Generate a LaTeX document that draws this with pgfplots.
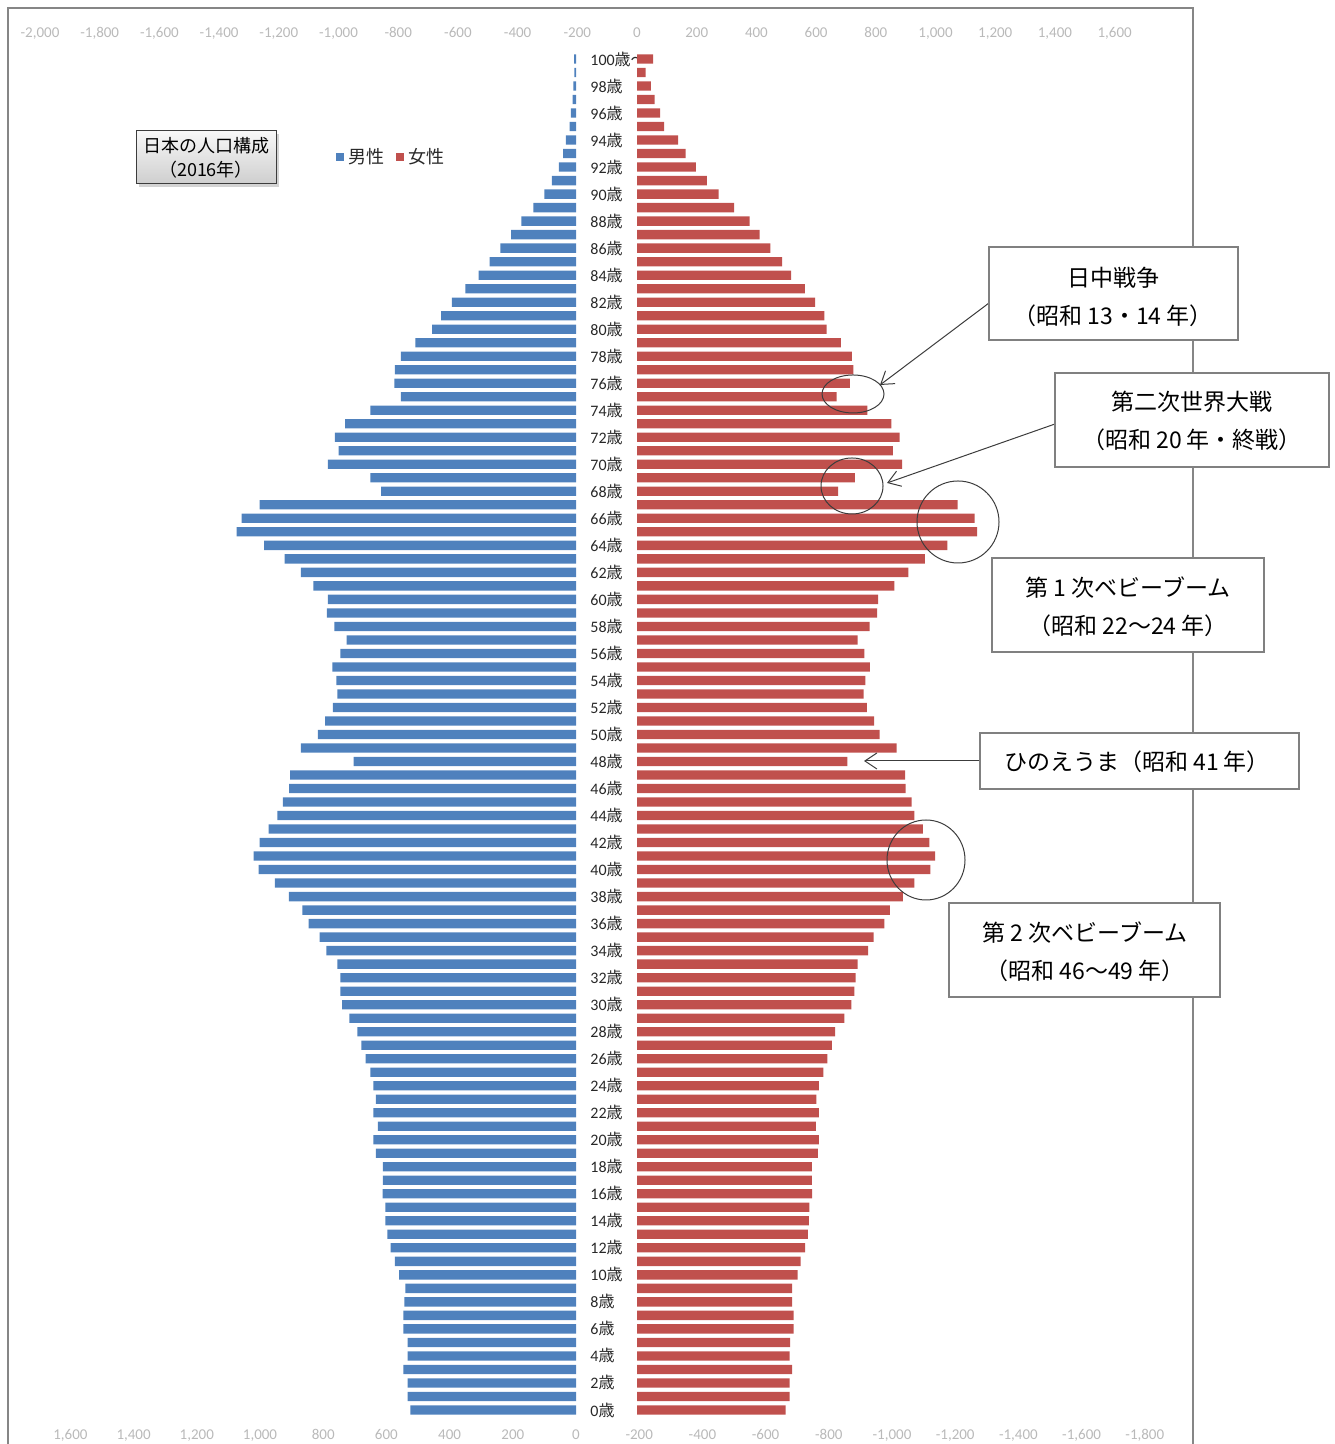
\documentclass[border=0pt]{standalone}
\usepackage{pgfplots}
\pgfplotsset{compat=1.18}
\usepackage{fontspec}
\setmainfont{Noto Sans CJK JP}
\newfontfamily\numfont{Carlito}
\newfontfamily\cjk{Noto Sans CJK JP}
\usetikzlibrary{arrows.meta,shadows}
\definecolor{maleblue}{RGB}{79,129,189}
\definecolor{femalered}{RGB}{192,80,77}
\definecolor{tickgray}{RGB}{185,185,185}
\definecolor{framegray}{RGB}{134,134,134}
\definecolor{boxgray}{RGB}{128,128,128}
\definecolor{inkgray}{RGB}{60,60,60}
\definecolor{labelink}{RGB}{40,40,40}
\newcommand\sai{{\cjk 歳}}
\pgfplotsset{
  pyr/.style={
    at={(4pt,0pt)}, anchor=south west,
    scale only axis, width=592.5pt, height=717pt,
    ymin=-2.52, ymax=103.63,
    axis line style={draw=none},
    major tick length=0pt,
    xbar, bar width=4.65pt,
    /pgf/number format/1000 sep={,},
    /pgf/number format/assume math mode=true,
  }
}
\begin{document}
\begin{tikzpicture}
\path[use as bounding box] (0pt,0pt) rectangle (667pt,722pt);
\begin{scope}[x=0.5pt,y=-0.5pt,yshift=722pt]
\draw[framegray, line width=0.75pt] (8,1470) -- (8,8) -- (1193,8) -- (1193,1470);
\end{scope}

% female axis (top ticks, age labels)
\begin{axis}[pyr,
  xmin=-2107.2, xmax=1862.6,
  xtick={-2000,-1800,...,1600},
  xticklabel pos=upper,
  x tick label style={anchor=base, yshift=-14pt, font=\numfont\fontsize{7.5}{9}\selectfont, text=tickgray},
  ytick={0,2,...,98},
  yticklabel={\pgfmathprintnumber{\tick}\sai},
  extra y ticks={100},
  extra y tick labels={100\sai{\cjk ～}},
  y tick label style={anchor=west, inner sep=0pt, xshift=291pt, font=\numfont\fontsize{8}{10}\selectfont, text=labelink},
]
\addplot[fill=femalered, draw=none, bar shift=0pt] coordinates {
(498,0)(511,1)(511,2)(520,3)(511,4)(513,5)(525,6)(525,7)(520,8)(520,9)
(538,10)(548,11)(563,12)(572,13)(576,14)(577,15)(587,16)(586,17)(586,18)(606,19)
(609,20)(599,21)(609,22)(601,23)(609,24)(624,25)(638,26)(653,27)(664,28)(695,29)
(718,30)(728,31)(732,32)(739,33)(774,34)(793,35)(829,36)(847,37)(891,38)(929,39)
(983,40)(999,41)(979,42)(958,43)(929,44)(920,45)(900,46)(898,47)(705,48)(870,49)
(813,50)(794,51)(770,52)(759,53)(765,54)(780,55)(762,56)(739,57)(779,58)(804,59)
(808,60)(862,61)(909,62)(964,63)(1040,64)(1139,65)(1131,66)(1074,67)(674,68)(730,69)
(888,70)(857,71)(880,72)(852,73)(772,74)(669,75)(713,76)(725,77)(720,78)(683,79)
(635,80)(628,81)(597,82)(562,83)(516,84)(486,85)(447,86)(411,87)(377,88)(325,89)
(273,90)(234,91)(197,92)(163,93)(138,94)(91,95)(77,96)(59,97)(46,98)(29,99)(54,100)
};
\end{axis}

% male axis (bottom ticks, reversed)
\begin{axis}[pyr,
  x dir=reverse,
  xmin=-1952.5, xmax=1797.5,
  xtick={-1800,-1600,...,1600},
  xticklabel pos=lower,
  x tick label style={anchor=base, yshift=2pt, font=\numfont\fontsize{7.5}{9}\selectfont, text=tickgray},
  ytick=\empty,
  legend columns=2,
  legend style={at={(0.2717,0.8975)}, anchor=west, draw=none, fill=none,
    font=\fontsize{9}{11}\selectfont, text=labelink,
    /tikz/every even column/.append style={column sep=4pt}},
  legend image code/.code={\fill[#1] (0pt,-2pt) rectangle (4pt,2pt);},
]
\addplot[fill=maleblue, draw=none, bar shift=0pt] coordinates {
(524,0)(533,1)(533,2)(546,3)(533,4)(533,5)(546,6)(546,7)(543,8)(540,9)
(560,10)(573,11)(587,12)(597,13)(603,14)(603,15)(612,16)(611,17)(611,18)(633,19)
(641,20)(627,21)(641,22)(633,23)(641,24)(651,25)(666,26)(679,27)(692,28)(717,29)
(740,30)(746,31)(746,32)(755,33)(790,34)(811,35)(846,36)(866,37)(909,38)(953,39)
(1004,40)(1020,41)(1001,42)(973,43)(945,44)(928,45)(908,46)(905,47)(704,48)(871,49)
(817,50)(794,51)(769,52)(755,53)(758,54)(771,55)(746,56)(726,57)(765,58)(788,59)
(785,60)(831,61)(871,62)(922,63)(987,64)(1074,65)(1058,66)(1001,67)(617,68)(651,69)
(785,70)(751,71)(763,72)(731,73)(651,74)(554,75)(575,76)(573,77)(554,78)(508,79)
(455,80)(427,81)(393,82)(350,83)(308,84)(273,85)(239,86)(205,87)(173,88)(135,89)
(100,90)(76,91)(54,92)(41,93)(32,94)(20,95)(16,96)(11,97)(8,98)(5,99)(6,100)
};
\addlegendentry{男性}
\addlegendimage{fill=femalered, draw=none}
\addlegendentry{女性}
\end{axis}

\begin{scope}[x=0.5pt,y=-0.5pt,yshift=722pt]
% title box
\node[draw=inkgray, line width=0.5pt, top color=gray!6, bottom color=gray!38,
  drop shadow={shadow xshift=1.5pt, shadow yshift=-1.5pt, opacity=0.35},
  minimum width=70pt, minimum height=26.5pt, align=center, inner sep=0pt,
  font=\fontsize{9}{12}\selectfont, text=black] at (206,157.5) {日本の人口構成\\（2016年）};

% ellipses
\begin{scope}[inkgray, line width=0.5pt]
\draw (853,394) ellipse [x radius=15.5pt, y radius=9.5pt];
\draw (852,486) ellipse [x radius=15.5pt, y radius=14pt];
\draw (958,522) ellipse [x radius=20.5pt, y radius=20.5pt];
\draw (926,860) ellipse [x radius=19.5pt, y radius=20pt];
\end{scope}

% arrows
\begin{scope}[inkgray, line width=0.5pt, -{Straight Barb[length=6pt,width=8pt]}]
\draw (989,303) -- (880,385);
\draw (1055,424) -- (887,483);
\draw (980,761) -- (864,761);
\end{scope}

% callout boxes
\begin{scope}[every node/.style={font=\fontsize{11.5}{14}\selectfont, text=black}]
\draw[boxgray, fill=white, line width=1pt] (989,247) rectangle (1238,340);
\node at (1113,278) {日中戦争};
\node at (1113,316) {（昭和 13・14 年）};
\draw[boxgray, fill=white, line width=1pt] (1055,373) rectangle (1329,467);
\node at (1192,402) {第二次世界大戦};
\node at (1192,440) {（昭和 20 年・終戦）};
\draw[boxgray, fill=white, line width=1pt] (992,558) rectangle (1264,652);
\node at (1128,588) {第 1 次ベビーブーム};
\node at (1128,626) {（昭和 22～24 年）};
\draw[boxgray, fill=white, line width=1pt] (980,733) rectangle (1299,789);
\node at (1137,762) {ひのえうま（昭和 41 年）};
\draw[boxgray, fill=white, line width=1pt] (949,903) rectangle (1220,997);
\node at (1085,933) {第 2 次ベビーブーム};
\node at (1085,971) {（昭和 46～49 年）};
\end{scope}
\end{scope}
\end{tikzpicture}
\end{document}
